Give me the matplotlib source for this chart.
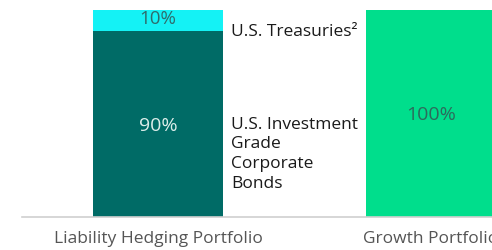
import matplotlib.pyplot as plt

portfolios = ["Liability Hedging Portfolio", "Growth Portfolio"]
corporate = [90, 0]
treasuries = [10, 0]
growth = [0, 100]

plt.rcParams['font.family'] = ['Open Sans', 'DejaVu Sans']

fig = plt.figure(figsize=(4.92, 2.5), dpi=100)
ax = fig.add_axes([0.0447, 0.132, 0.9553, 0.868])

x = [0, 1]
w = 0.476
ax.bar(x[0], corporate[0], width=w, color="#006B66")
ax.bar(x[0], treasuries[0], bottom=corporate[0], width=w, color="#14F2F5")
ax.bar(x[1], growth[1], width=w, color="#00DE8C")

ax.text(x[0], 44, f"{corporate[0]}%", ha="center", va="center",
        color="#DDEDEA", fontsize=14)
ax.text(x[0], 95.5, f"{treasuries[0]}%", ha="center",
        va="center", color="#2F6B6B", fontsize=13.5)
ax.text(x[1], 49.5, f"{growth[1]}%", ha="center", va="center",
        color="#2C6B5C", fontsize=14)

# legend-style labels to the right of the first bar
lx = x[0] + w / 2 + 0.03
ax.text(lx, 89.5, "U.S. Treasuries²", ha="left",
        va="center", color="#1A1A1A", fontsize=12.5)
ax.text(lx, 48.5, "U.S. Investment\nGrade\nCorporate\nBonds",
        ha="left", va="top", color="#1A1A1A", fontsize=12.5, linespacing=1.32)

ax.set_xlim(-0.498, 1.223)
ax.set_ylim(0, 104.8)
ax.set_xticks(x)
ax.set_xticklabels(portfolios, color="#555555", fontsize=12.5)
ax.tick_params(axis="x", length=0, pad=10)
ax.set_yticks([])
for s in ["top", "right", "left"]:
    ax.spines[s].set_visible(False)
ax.spines["bottom"].set_color("#D0D0D0")
ax.spines["bottom"].set_linewidth(1.2)

fig.savefig("out.png", dpi=100)
